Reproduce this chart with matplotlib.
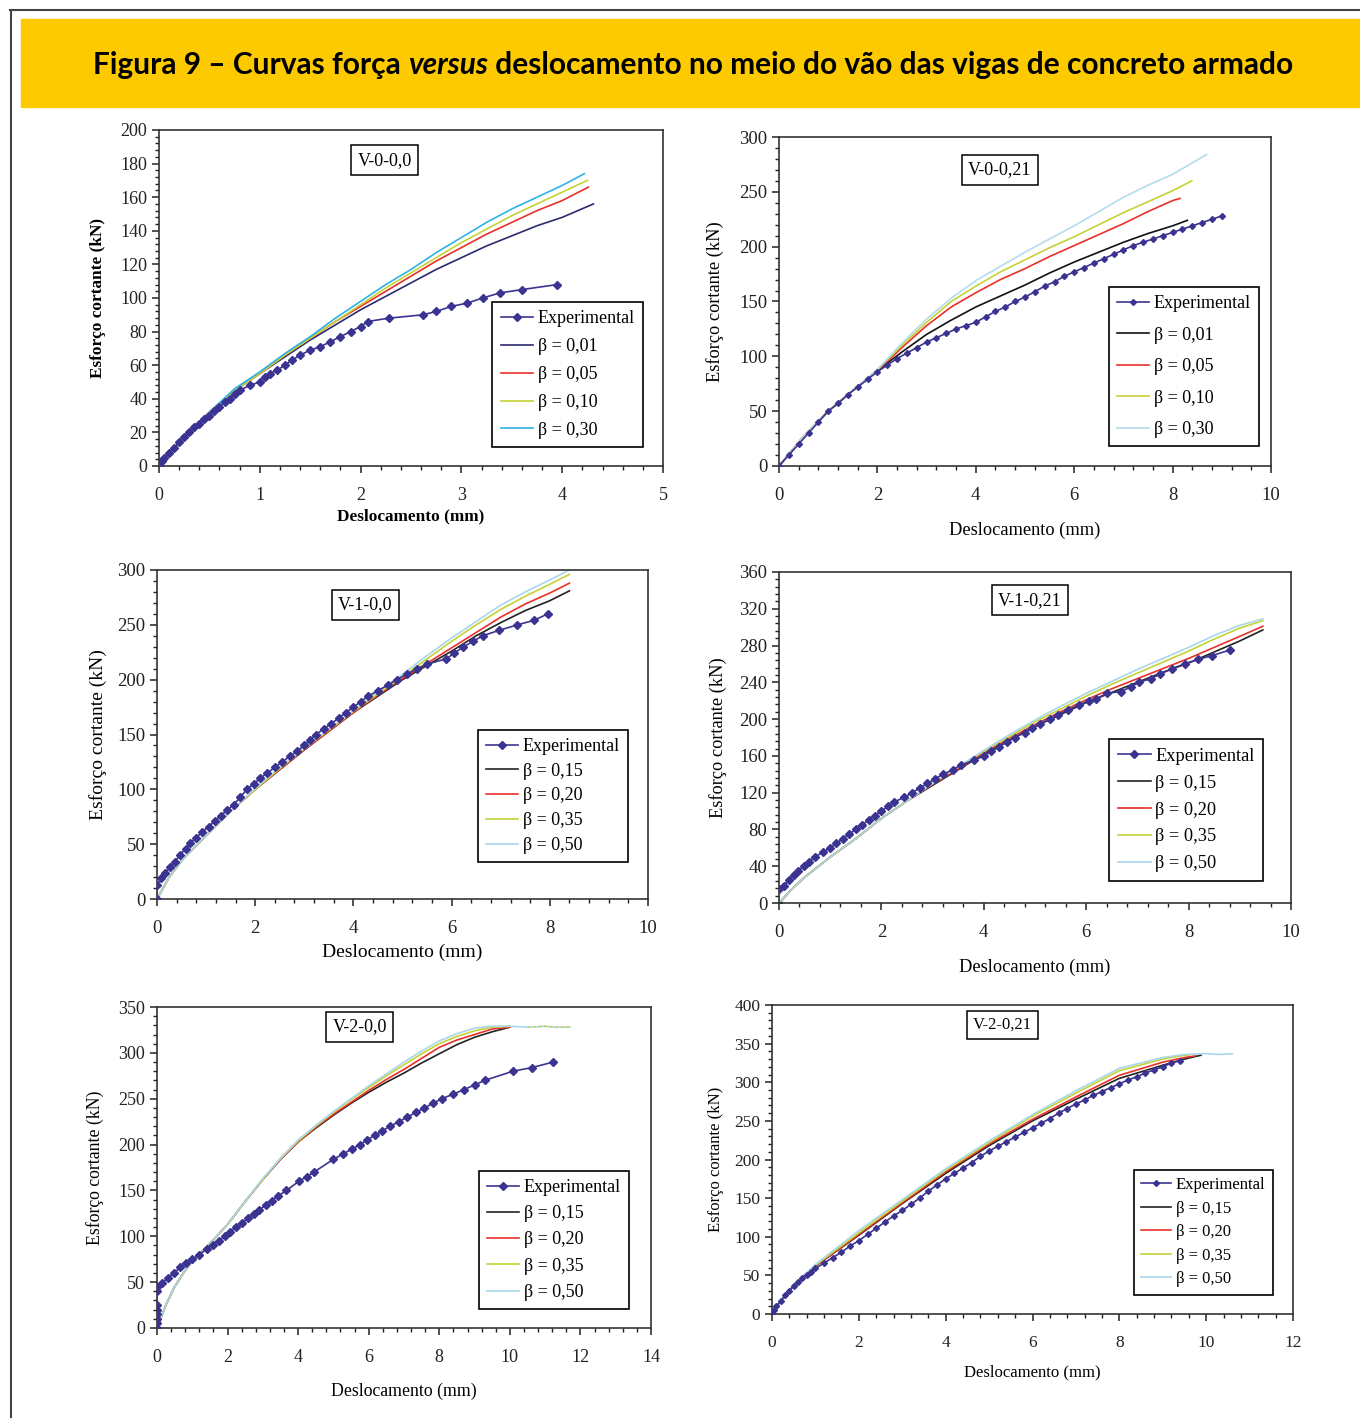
import numpy as np
import matplotlib.pyplot as plt
from matplotlib.patches import Rectangle

plt.rcParams['font.family'] = ['Liberation Serif', 'DejaVu Serif']

EXP_COLOR = '#3b3391'
LBLUE = '#a9d7ea'

# ---------------- V-0-0,0 ----------------
v00_exp_x = [0, 0.03, 0.05, 0.1, 0.15, 0.2, 0.25, 0.3, 0.35, 0.4, 0.45, 0.5, 0.55, 0.6, 0.65,
             0.7, 0.75, 0.8, 0.9, 1.0, 1.05, 1.1, 1.17, 1.25, 1.32, 1.4, 1.5, 1.6, 1.7, 1.8,
             1.9, 2.0, 2.07, 2.28, 2.62, 2.75, 2.9, 3.06, 3.21, 3.38, 3.6, 3.95]
v00_exp_y = [0, 3, 5, 8, 11, 14, 17, 20, 23, 25, 28, 30, 33, 35, 38,
             40, 43, 45, 48, 50, 53, 55, 57, 60, 63, 66, 69, 71, 74, 77,
             80, 83, 86, 88, 90, 92, 95, 97, 100, 103, 105, 108]
v00_sim_x = [0, 0.25, 0.5, 0.75, 1.0, 1.25, 1.5, 1.75, 2.0, 2.25, 2.5, 2.75, 3.0, 3.25, 3.5,
             3.75, 4.0]
v00_b001 = [0, 17, 32, 45, 55, 65, 75, 84, 93, 101, 109, 117, 124, 131, 137, 143, 148]
v00_b005 = [0, 17, 32, 45, 55, 66, 76, 86, 95, 104, 113, 122, 130, 138, 145, 152, 158]
v00_b010 = [0, 17, 32, 45, 55, 66, 76, 86, 96, 106, 115, 124, 133, 141, 149, 156, 163]
v00_b030 = [0, 17, 32, 46, 56, 67, 77, 88, 98, 108, 117, 127, 136, 145, 153, 160, 167]
v00_end_x = [4.31, 4.26, 4.25, 4.22]
v00_end_y = [156, 166, 170, 174]

# ---------------- V-0-0,21 ----------------
v021_exp_x = [0, 0.2, 0.4, 0.6, 0.8, 1.0, 1.2, 1.4, 1.6, 1.8, 2.0, 2.2, 2.4, 2.6, 2.8, 3.0,
              3.2, 3.4, 3.6, 3.8, 4.0, 4.2, 4.4, 4.6, 4.8, 5.0, 5.2, 5.4, 5.6, 5.8, 6.0,
              6.2, 6.4, 6.6, 6.8, 7.0, 7.2, 7.4, 7.6, 7.8, 8.0, 8.2, 8.4, 8.6, 8.8, 9.0]
v021_exp_y = [0, 10, 20, 30, 40, 50, 57, 65, 72, 79, 86, 92, 98, 103, 108, 113,
              117, 121, 125, 128, 131, 136, 141, 145, 150, 154, 159, 164, 168, 173, 177,
              181, 185, 189, 193, 197, 201, 204, 207, 210, 213, 216, 219, 222, 225, 228]
v021_sim_x = [0, 0.5, 1.0, 1.5, 2.0, 2.5, 3.0, 3.5, 4.0, 4.5, 5.0, 5.5, 6.0, 6.5, 7.0, 7.5, 8.0]
v021_b001 = [0, 27, 50, 69, 87, 104, 120, 133, 145, 155, 165, 176, 186, 195, 204, 212, 219]
v021_b005 = [0, 27, 50, 69, 87, 108, 128, 145, 158, 170, 180, 191, 201, 211, 221, 232, 242]
v021_b010 = [0, 27, 50, 69, 88, 110, 131, 150, 164, 177, 188, 199, 209, 220, 231, 241, 251]
v021_b030 = [0, 27, 50, 69, 88, 112, 134, 153, 169, 182, 195, 207, 219, 232, 245, 256, 266]
v021_end_x = [8.3, 8.15, 8.39, 8.69]
v021_end_y = [224, 244, 260, 284]

# ---------------- V-1-0,0 ----------------
v10_exp_x = [0, 0, 0.09, 0.17, 0.27, 0.37, 0.46, 0.59, 0.68, 0.8, 0.92, 1.05, 1.18, 1.3, 1.43,
             1.56, 1.7, 1.83, 1.97, 2.1, 2.25, 2.4, 2.55, 2.7, 2.85, 3.0, 3.12, 3.23, 3.4,
             3.55, 3.7, 3.85, 4.0, 4.15, 4.3, 4.5, 4.7, 4.88, 5.09, 5.29, 5.49, 5.89, 6.05,
             6.24, 6.44, 6.63, 6.97, 7.34, 7.67, 7.96]
v10_exp_y = [0, 13, 19, 24, 29, 34, 40, 46, 51, 56, 61, 66, 71, 76, 81,
             86, 93, 100, 105, 110, 115, 120, 125, 130, 135, 140, 145, 150, 155,
             160, 165, 170, 175, 180, 185, 190, 195, 200, 205, 210, 214, 219, 224,
             230, 235, 240, 245, 250, 254, 260]
v10_sim_x = [0, 0.25, 0.5, 1.0, 1.5, 2.0, 2.5, 3.0, 3.5, 4.0, 4.5, 5.0, 5.5, 6.0, 6.5, 7.0,
             7.5, 8.0, 8.4]
v10_b015 = [0, 20, 35, 58, 80, 100, 118, 136, 153, 170, 185, 200, 213, 226, 240, 252, 263, 272, 281]
v10_b020 = [0, 20, 35, 58, 80, 100, 118, 136, 153, 170, 186, 201, 215, 229, 243, 257, 269, 279, 288]
v10_b035 = [0, 20, 35, 58, 80, 100, 119, 137, 154, 171, 187, 203, 219, 235, 250, 264, 276, 287, 296]
v10_b050 = [0, 20, 35, 58, 80, 101, 120, 138, 155, 172, 189, 205, 222, 238, 253, 268, 280, 291, 300]

# ---------------- V-1-0,21 ----------------
v121_exp_x = [0, 0.1, 0.19, 0.29, 0.38, 0.48, 0.58, 0.7, 0.85, 1.0, 1.12, 1.25, 1.37, 1.5,
              1.62, 1.75, 1.87, 2.0, 2.13, 2.25, 2.45, 2.6, 2.75, 2.9, 3.05, 3.2, 3.4, 3.55,
              3.8, 4.0, 4.15, 4.3, 4.45, 4.6, 4.8, 4.95, 5.1, 5.3, 5.45, 5.65, 5.85, 6.05,
              6.2, 6.4, 6.68, 6.87, 7.03, 7.26, 7.45, 7.68, 7.92, 8.19, 8.45, 8.8]
v121_exp_y = [15, 19, 25, 30, 35, 40, 45, 50, 55, 60, 65, 70, 75, 80,
              85, 90, 95, 100, 105, 110, 115, 120, 125, 130, 135, 140, 145, 150,
              155, 160, 165, 170, 175, 180, 185, 190, 195, 200, 205, 210, 215, 220,
              222, 228, 230, 235, 240, 244, 249, 255, 260, 265, 269, 275]
v121_sim_x = [0, 0.25, 0.5, 1.0, 1.5, 2.0, 2.5, 3.0, 3.5, 4.0, 4.5, 5.0, 5.5, 6.0, 6.5, 7.0,
              7.5, 8.0, 8.5, 9.0, 9.45]
v121_b015 = [0, 15, 28, 50, 70, 92, 111, 128, 145, 162, 177, 192, 205, 218, 229, 240, 251,
             261, 273, 285, 297]
v121_b020 = [0, 15, 28, 50, 70, 92, 111, 129, 146, 163, 179, 194, 208, 221, 233, 244, 255,
             266, 278, 290, 301]
v121_b035 = [0, 15, 28, 50, 70, 92, 111, 130, 148, 165, 181, 197, 211, 225, 238, 250, 262,
             274, 287, 299, 307]
v121_b050 = [0, 15, 28, 50, 70, 92, 111, 130, 148, 166, 183, 199, 214, 228, 241, 254, 266,
             278, 291, 302, 309]

# ---------------- V-2-0,0 ----------------
v20_exp_x = [0, 0, 0, 0, 0, 0, 0, 0, 0.15, 0.32, 0.49, 0.65, 0.82, 1.0, 1.2, 1.41, 1.59,
             1.75, 1.93, 2.07, 2.25, 2.42, 2.58, 2.74, 2.9, 3.09, 3.26, 3.43, 3.67, 4.02,
             4.24, 4.45, 5.0, 5.28, 5.52, 5.76, 5.95, 6.17, 6.39, 6.6, 6.86, 7.09, 7.34,
             7.58, 7.82, 8.07, 8.4, 8.7, 9.0, 9.29, 10.09, 10.63, 11.23]
v20_exp_y = [0, 5, 10, 15, 20, 25, 40, 45, 49, 55, 60, 66, 71, 75, 80, 86, 91,
             95, 100, 105, 110, 115, 120, 124, 129, 134, 139, 144, 150, 160,
             165, 170, 184, 190, 195, 200, 205, 210, 215, 220, 225, 230, 235,
             240, 245, 250, 255, 260, 265, 270, 280, 284, 290]
v20_sim_x = [0, 0.1, 0.25, 0.5, 0.75, 1.0, 1.5, 2.0, 2.5, 3.0, 3.5, 4.0, 4.5, 5.0, 5.5,
             6.0, 6.5, 7.0, 7.5, 8.0, 8.5, 9.0, 9.5, 10.0]
v20_b015 = [0, 10, 25, 45, 60, 73, 92, 113, 138, 162, 184, 203, 218, 232, 245,
            257, 268, 278, 289, 299, 309, 317, 323, 328]
v20_b020 = [0, 10, 25, 45, 60, 73, 92, 113, 138, 162, 184, 203, 219, 233, 246,
            259, 271, 282, 294, 306, 314, 320, 326, 328]
v20_b035 = [0, 10, 25, 45, 60, 73, 92, 113, 138, 162, 185, 204, 220, 235, 249,
            262, 275, 287, 299, 310, 318, 324, 328, 329]
v20_b050 = [0, 10, 25, 45, 60, 73, 92, 113, 138, 163, 185, 205, 221, 236, 250,
            264, 277, 290, 302, 313, 321, 327, 329, 329]
v20_tail_x = [10.5, 11.0, 11.3, 11.7]
v20_tail_y = [328, 329, 328, 328]

# ---------------- V-2-0,21 ----------------
v221_exp_x = [0, 0.05, 0.1, 0.2, 0.3, 0.4, 0.5, 0.6, 0.7, 0.8, 0.9, 1.0, 1.2, 1.4, 1.6, 1.8,
              2.0, 2.2, 2.4, 2.6, 2.8, 3.0, 3.2, 3.4, 3.6, 3.8, 4.0, 4.2, 4.4, 4.6, 4.8,
              5.0, 5.2, 5.4, 5.6, 5.8, 6.0, 6.2, 6.4, 6.6, 6.8, 7.0, 7.2, 7.4, 7.6, 7.8,
              8.0, 8.2, 8.4, 8.6, 8.8, 9.0, 9.2, 9.4]
v221_exp_y = [0, 5, 10, 17, 24, 30, 36, 41, 46, 51, 55, 59, 66, 73, 80, 88,
              95, 103, 111, 119, 127, 134, 142, 150, 159, 167, 175, 182, 189, 196, 204,
              211, 217, 223, 229, 235, 241, 247, 253, 260, 266, 272, 277, 283, 288, 293,
              298, 303, 307, 312, 316, 320, 325, 328]
v221_sim_x = [0, 0.5, 1.0, 2.0, 3.0, 4.0, 5.0, 6.0, 7.0, 8.0, 9.0, 9.5]
v221_b015 = [0, 38, 62, 102, 143, 182, 218, 250, 278, 305, 322, 330]
v221_b020 = [0, 38, 62, 103, 144, 184, 220, 252, 281, 309, 326, 332]
v221_b035 = [0, 38, 63, 105, 146, 186, 222, 256, 286, 315, 330, 335]
v221_b050 = [0, 38, 64, 108, 148, 188, 224, 258, 289, 318, 332, 336]
v221_end_x = [[9.88], [9.74], [9.6], [10.0, 10.3, 10.6]]
v221_end_y = [[335], [334], [335], [337, 336, 337]]

labels_a = ['β = 0,01', 'β = 0,05', 'β = 0,10', 'β = 0,30']
labels_b = ['β = 0,15', 'β = 0,20', 'β = 0,35', 'β = 0,50']


def px_axes(fig, l, r, t, b):
    W, H = 1360, 1418
    return fig.add_axes([l / W, 1 - b / H, (r - l) / W, (b - t) / H])


def style(ax, xlim, xmaj, ylim, ymaj, yminor, fs=13):
    ax.set_xlim(0, xlim)
    ax.set_ylim(0, ylim)
    ax.set_xticks(np.arange(0, xlim + 1e-9, xmaj))
    ax.set_xticks(np.arange(0, xlim + 1e-9, xmaj / 5), minor=True)
    ax.set_yticks(np.arange(0, ylim + 1e-9, ymaj))
    ax.set_yticks(np.arange(0, ylim + 1e-9, yminor), minor=True)
    ax.tick_params(which='major', direction='out', length=5, width=1.1, labelsize=fs,
                   colors='#222222')
    ax.tick_params(which='minor', direction='out', length=3, width=1.0, color='#222222')
    ax.tick_params(axis='x', pad=10)
    for s in ax.spines.values():
        s.set_linewidth(1.2)
        s.set_color('#333333')
    ax.xaxis.set_major_formatter(plt.FuncFormatter(lambda v, p: f'{v:g}'))


def tag(ax, text, x, y, fs=13):
    ax.text(x, y, text, transform=ax.transAxes, ha='center', va='center', fontsize=fs,
            bbox=dict(boxstyle='square,pad=0.35', fc='white', ec='black', lw=1.1))


def draw(ax, ex, ey, sims, labels, colors, ms=4):
    ax.plot(ex, ey, color=EXP_COLOR, marker='D', ms=ms, lw=1.2, label='Experimental', zorder=5)
    for (sx, sy), lab, c in zip(sims, labels, colors):
        ax.plot(sx, sy, color=c, lw=1.2, label=lab)


def legend(ax, anchor, fs=13, spacing=0.6):
    leg = ax.legend(loc='lower right', bbox_to_anchor=anchor, fontsize=fs, frameon=True,
                    fancybox=False, edgecolor='black', framealpha=1, handlelength=1.8,
                    labelspacing=spacing, borderpad=0.45, handletextpad=0.25, numpoints=1)
    leg.get_frame().set_linewidth(1.2)


fig = plt.figure(figsize=(13.6, 14.18), dpi=100)

# frame and banner
fig.add_artist(plt.Line2D([10 / 1360, 1], [1 - 10 / 1418, 1 - 10 / 1418], color='#444444', lw=1.5,
                          transform=fig.transFigure))
fig.add_artist(plt.Line2D([11 / 1360, 11 / 1360], [0, 1 - 10 / 1418], color='#444444', lw=1.5,
                          transform=fig.transFigure))
fig.add_artist(Rectangle((21 / 1360, 1 - 107 / 1418), 1 - 21 / 1360, 88 / 1418,
                         transform=fig.transFigure, color='#fdca00', zorder=0))

# title in three pieces (italic "versus")
pieces = [('Figura 9 – Curvas força ', 'normal'), ('versus', 'italic'),
          (' deslocamento no meio do vão das vigas de concreto armado', 'normal')]
renderer = fig.canvas.get_renderer()
tfs = 19
texts = [fig.text(0, 0, s, fontsize=tfs, fontweight='bold', style=st,
                  family=['Lato', 'DejaVu Sans']) for s, st in pieces]
widths = [t.get_window_extent(renderer).width for t in texts]
tfs = tfs * 1197 / sum(widths)
xcur = 93
for t in texts:
    t.set_fontsize(tfs)
for t in texts:
    w = t.get_window_extent(renderer).width
    t.set_position((xcur / 1360, 1 - 65 / 1418))
    t.set_va('center')
    xcur += w

# panel 1
ax = px_axes(fig, 159, 663, 130, 466)
sims = [(v00_sim_x + [v00_end_x[i]], s + [v00_end_y[i]])
        for i, s in enumerate([v00_b001, v00_b005, v00_b010, v00_b030])]
draw(ax, v00_exp_x, v00_exp_y, sims, labels_a, ['#2b2a6e', '#e8302a', '#c5d236', '#2fb2e6'])
style(ax, 5, 1, 200, 20, 4, fs=13)
ax.set_xticks(np.arange(0, 5.01, 0.2), minor=True)
tag(ax, 'V-0-0,0', 0.448, 0.91)
legend(ax, (0.978, 0.03), fs=13, spacing=0.6)
ax.set_xlabel('Deslocamento (mm)', fontsize=12.4, fontweight='bold', labelpad=3)
ax.set_ylabel('Esforço cortante (kN)', fontsize=12.4, fontweight='bold', labelpad=10)

# panel 2
ax = px_axes(fig, 779, 1271, 137, 466)
sims = [(v021_sim_x + [v021_end_x[i]], s + [v021_end_y[i]])
        for i, s in enumerate([v021_b001, v021_b005, v021_b010, v021_b030])]
draw(ax, v021_exp_x, v021_exp_y, sims, labels_a, ['#111111', '#e8302a', '#c5d236', '#b3dcec'], ms=3)
style(ax, 10, 2, 300, 50, 10, fs=13.5)
tag(ax, 'V-0-0,21', 0.449, 0.90)
legend(ax, (0.994, 0.033), fs=13, spacing=0.8)
ax.set_xlabel('Deslocamento (mm)', fontsize=13.2, labelpad=13)
ax.set_ylabel('Esforço cortante (kN)', fontsize=13.2, labelpad=11)

# panel 3
ax = px_axes(fig, 157, 648, 570, 899)
sims = [(v10_sim_x, s) for s in [v10_b015, v10_b020, v10_b035, v10_b050]]
draw(ax, v10_exp_x, v10_exp_y, sims, labels_b, ['#222222', '#e8302a', '#c5d236', LBLUE])
style(ax, 10, 2, 300, 50, 10, fs=13.5)
tag(ax, 'V-1-0,0', 0.424, 0.894)
legend(ax, (0.978, 0.085), fs=13, spacing=0.43)
ax.set_xlabel('Deslocamento (mm)', fontsize=14, labelpad=5)
ax.set_ylabel('Esforço cortante (kN)', fontsize=14, labelpad=7)

# panel 4
ax = px_axes(fig, 779, 1291, 572, 903)
ax.plot([0], [0], color='#222222', marker='o', ms=4)
sims = [(v121_sim_x, s) for s in [v121_b015, v121_b020, v121_b035, v121_b050]]
draw(ax, v121_exp_x, v121_exp_y, sims, labels_b, ['#222222', '#e8302a', '#c5d236', LBLUE])
style(ax, 10, 2, 360, 40, 8, fs=13.5)
tag(ax, 'V-1-0,21', 0.49, 0.915)
legend(ax, (0.963, 0.04), fs=13.2, spacing=0.54)
ax.set_xlabel('Deslocamento (mm)', fontsize=13.2, labelpad=13)
ax.set_ylabel('Esforço cortante (kN)', fontsize=13.2, labelpad=9)

# panel 5
ax = px_axes(fig, 157, 651, 1007, 1328)
sims = [(v20_sim_x, v20_b015), (v20_sim_x, v20_b020), (v20_sim_x, v20_b035),
        (v20_sim_x + v20_tail_x, v20_b050 + v20_tail_y)]
draw(ax, v20_exp_x, v20_exp_y, sims, labels_b, ['#222222', '#e8302a', '#c5d236', LBLUE])
ax.plot(v20_tail_x, v20_tail_y, color='#c5d236', lw=1.0, ls=(0, (2, 2)))
style(ax, 14, 2, 350, 50, 10, fs=13)
tag(ax, 'V-2-0,0', 0.41, 0.938)
legend(ax, (0.974, 0.031), fs=13, spacing=0.51)
ax.set_xlabel('Deslocamento (mm)', fontsize=12.8, labelpad=12)
ax.set_ylabel('Esforço cortante (kN)', fontsize=12.8, labelpad=10)

# panel 6
ax = px_axes(fig, 772, 1293, 1005, 1314)
sims = [(v221_sim_x + v221_end_x[i], s + v221_end_y[i])
        for i, s in enumerate([v221_b015, v221_b020, v221_b035, v221_b050])]
draw(ax, v221_exp_x, v221_exp_y, sims, labels_b, ['#222222', '#e8302a', '#c5d236', LBLUE], ms=3)
style(ax, 12, 2, 400, 50, 10, fs=12.5)
tag(ax, 'V-2-0,21', 0.443, 0.935, fs=12)
legend(ax, (0.977, 0.036), fs=12, spacing=0.45)
ax.set_xlabel('Deslocamento (mm)', fontsize=12, labelpad=10)
ax.set_ylabel('Esforço cortante (kN)', fontsize=12, labelpad=7)

fig.savefig('out.png', dpi=100)
